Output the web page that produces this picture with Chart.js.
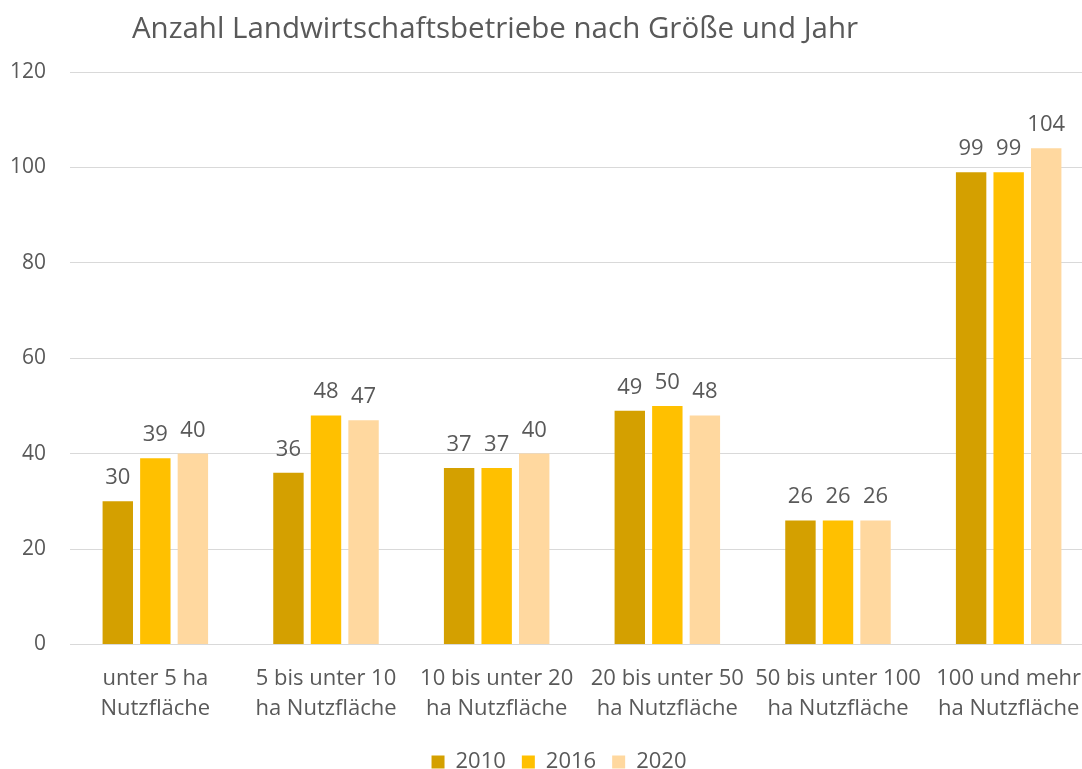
<!DOCTYPE html>
<html lang="de">
<head>
<meta charset="utf-8">
<title>Anzahl Landwirtschaftsbetriebe</title>
<script src="https://cdn.jsdelivr.net/npm/chart.js@4/dist/chart.umd.min.js"></script>
<style>
  html, body { margin: 0; padding: 0; background: #fff; overflow: hidden; }
  #wrap { width: 1082px; height: 769px; overflow: hidden; }
  #betriebe-chart { display: block; }
</style>
</head>
<body>
<div id="wrap"><canvas id="betriebe-chart" width="1094" height="769"></canvas></div>
<script>
// Daten
const categories = [
  ['unter 5 ha', 'Nutzfläche'],
  ['5 bis unter 10', 'ha Nutzfläche'],
  ['10 bis unter 20', 'ha Nutzfläche'],
  ['20 bis unter 50', 'ha Nutzfläche'],
  ['50 bis unter 100', 'ha Nutzfläche'],
  ['100 und mehr', 'ha Nutzfläche']
];
const years = ['2010', '2016', '2020'];
const values2010 = [30, 36, 37, 49, 26, 99];
const values2016 = [39, 48, 37, 50, 26, 99];
const values2020 = [40, 47, 40, 48, 26, 104];
const colors = ['#d4a000', '#ffc000', '#ffd89f'];
const chartTitle = 'Anzahl Landwirtschaftsbetriebe nach Größe und Jahr';

const textColor = '#595959';
const fontFamily = "'Open Sans', 'Noto Sans', sans-serif";

// Werte über den Balken
const valueLabels = {
  id: 'valueLabels',
  afterDatasetsDraw(chart) {
    const ctx = chart.ctx;
    ctx.save();
    ctx.font = '22px ' + fontFamily;
    ctx.fillStyle = textColor;
    ctx.textAlign = 'center';
    ctx.textBaseline = 'alphabetic';
    chart.data.datasets.forEach((ds, i) => {
      chart.getDatasetMeta(i).data.forEach((bar, j) => {
        ctx.fillText(String(ds.data[j]), bar.x, bar.y - 17);
      });
    });
    ctx.restore();
  }
};

// Titel (leicht links von der Mitte wie im Original) + Legende verschieben
const titlePlugin = {
  id: 'titlePlugin',
  afterLayout(chart) {
    const lg = chart.legend;
    lg.left += 12; lg.right += 12;
    lg.top += 14; lg.bottom += 14;
  },
  afterDraw(chart) {
    const ctx = chart.ctx;
    ctx.save();
    ctx.font = '29.5px ' + fontFamily;
    ctx.fillStyle = textColor;
    ctx.textAlign = 'center';
    ctx.textBaseline = 'alphabetic';
    ctx.fillText(chartTitle, 495, 38);
    ctx.restore();
  }
};

const ctx = document.getElementById('betriebe-chart').getContext('2d');
new Chart(ctx, {
  type: 'bar',
  data: {
    labels: categories,
    datasets: [
      { label: years[0], data: values2010, backgroundColor: colors[0] },
      { label: years[1], data: values2016, backgroundColor: colors[1] },
      { label: years[2], data: values2020, backgroundColor: colors[2] }
    ]
  },
  options: {
    responsive: false,
    animation: false,
    layout: { padding: { top: 72, right: 0, bottom: 0, left: 0 } },
    datasets: {
      bar: { categoryPercentage: 0.66, barPercentage: 0.81 }
    },
    scales: {
      x: {
        afterFit(scale) {
          scale.height = 76.6;
          scale.paddingLeft = 0;
          scale.paddingRight = 0;
        },
        grid: { display: false, drawTicks: false },
        border: { color: '#d9d9d9', width: 1 },
        ticks: {
          color: textColor,
          font: { family: fontFamily, size: 22, lineHeight: 1.36 },
          maxRotation: 0,
          autoSkip: false,
          padding: 19
        }
      },
      y: {
        min: 0,
        max: 120,
        afterFit(scale) { scale.width = 70; },
        grid: { color: '#d9d9d9', drawTicks: false },
        border: { display: false },
        ticks: {
          stepSize: 20,
          color: textColor,
          font: { family: fontFamily, size: 21 },
          padding: 24
        }
      }
    },
    plugins: {
      title: { display: false },
      tooltip: { enabled: false },
      legend: {
        position: 'bottom',
        labels: {
          color: textColor,
          font: { family: fontFamily, size: 22 },
          boxWidth: 13,
          boxHeight: 13,
          padding: 16
        }
      }
    }
  },
  plugins: [valueLabels, titlePlugin]
});
</script>
</body>
</html>
